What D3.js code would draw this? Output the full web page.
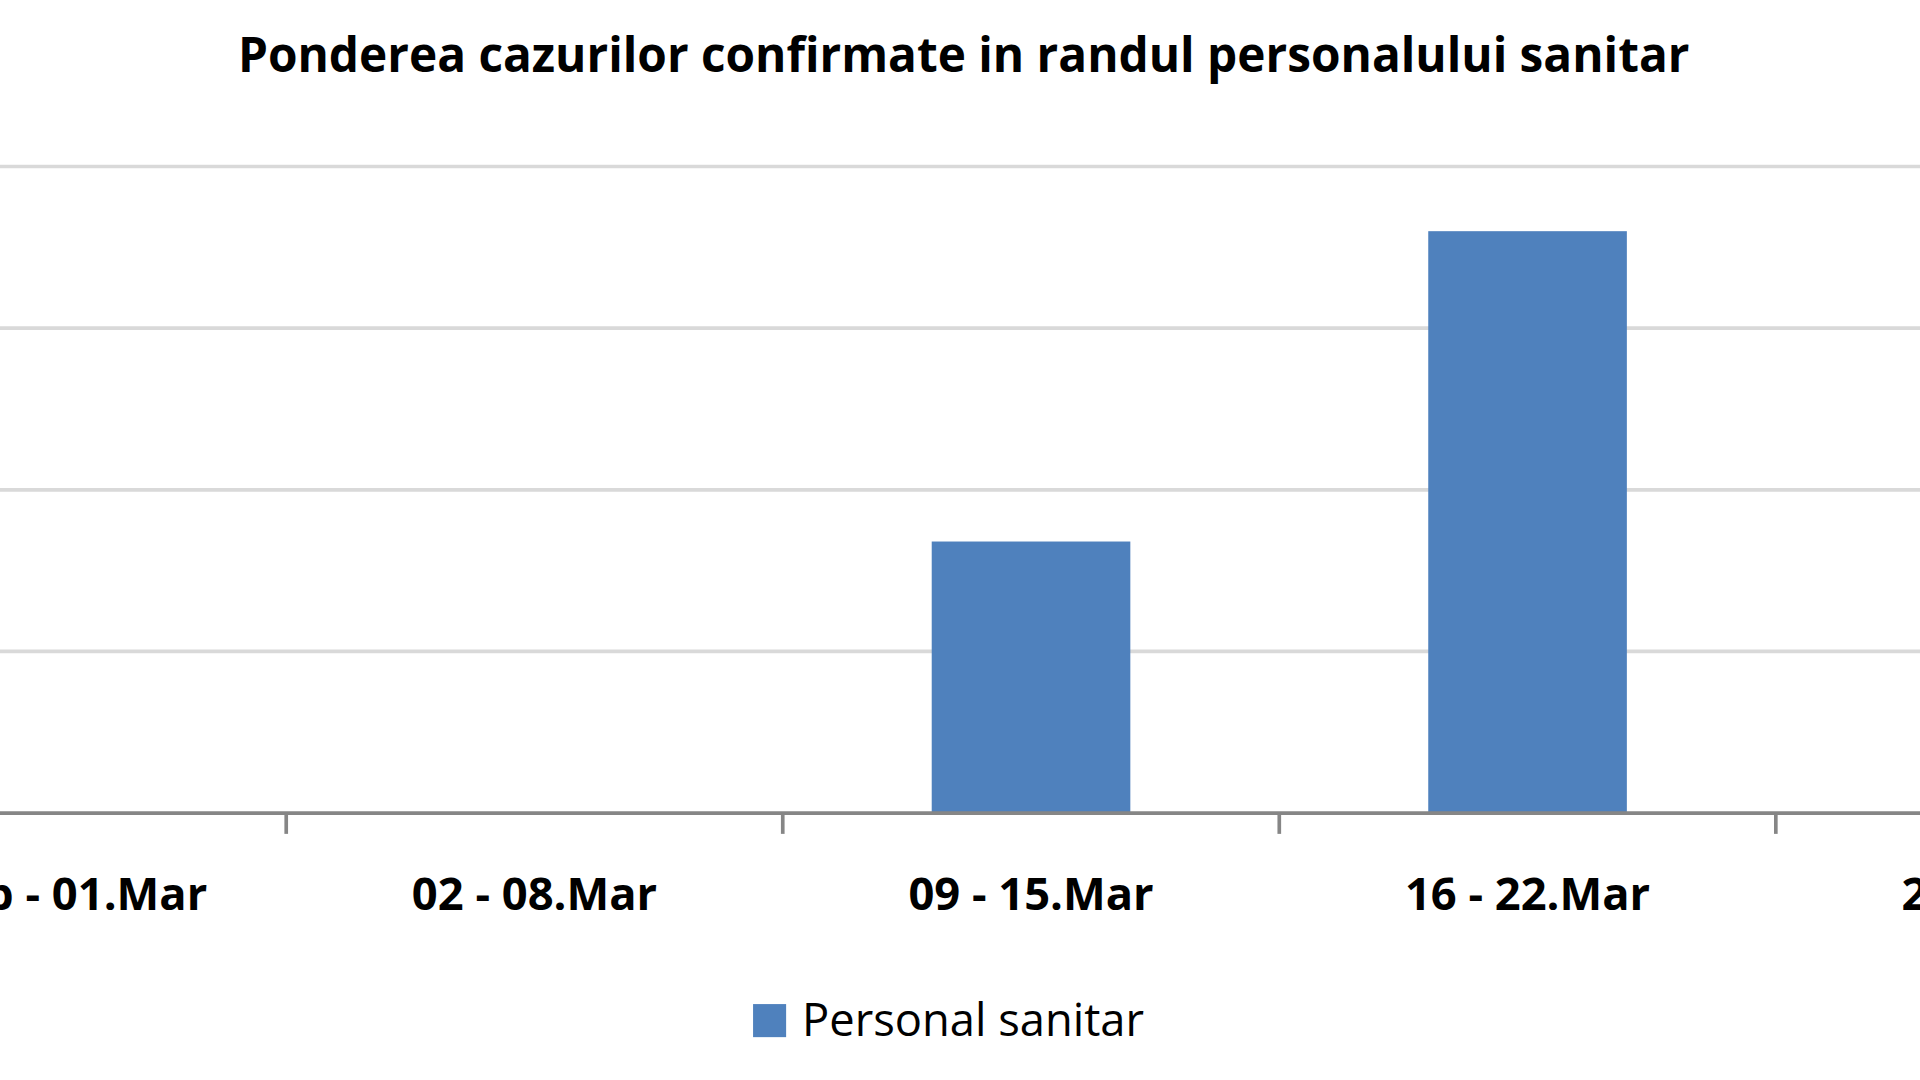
<!DOCTYPE html>
<html><head><meta charset="utf-8">
<script src="https://cdn.jsdelivr.net/npm/d3@7"></script>
<style>body{margin:0;background:#fff;overflow:hidden}</style>
</head><body><div id="chart"></div>
<script>
var title = "Ponderea cazurilor confirmate in randul personalului sanitar";
var categories = ["24.Feb - 01.Mar", "02 - 08.Mar", "09 - 15.Mar", "16 - 22.Mar", "23 - 29.Mar"];
var values = [0, 0, 8.4, 18.0, null];
var yTicks = [0, 5, 10, 15, 20];
var seriesName = "Personal sanitar";

// Work in 1568x882 units, scaled up to the 1920x1080 window.
var svg = d3.select("#chart").append("svg")
    .attr("width", 1920).attr("height", 1080)
    .attr("viewBox", "0 0 1568 882");

var font = "'Open Sans', sans-serif";
var step = 405.5, firstCenter = 31;
var x = d3.scaleBand()
    .domain(categories)
    .range([firstCenter - step / 2, firstCenter - step / 2 + step * categories.length])
    .paddingInner(0.6).paddingOuter(0.3);
var y = d3.scaleLinear().domain([0, 20]).range([664, 136]);

svg.append("text").attr("x", 787).attr("y", 59).attr("text-anchor", "middle")
    .style("font-family", font).style("font-weight", "bold")
    .style("font-size", "39px").text(title);

// Gridlines
svg.append("g").selectAll("line").data(yTicks.slice(1)).enter().append("line")
    .attr("x1", 0).attr("x2", 1568)
    .attr("y1", function (d) { return y(d); }).attr("y2", function (d) { return y(d); })
    .attr("stroke", "#d9d9d9").attr("stroke-width", 3);

// Bars
svg.append("g").selectAll("rect")
    .data(categories.map(function (c, i) { return {c: c, v: values[i]}; })
        .filter(function (d) { return d.v; }))
    .enter().append("rect")
    .attr("x", function (d) { return x(d.c); })
    .attr("width", x.bandwidth())
    .attr("y", function (d) { return y(d.v); })
    .attr("height", function (d) { return y(0) - y(d.v); })
    .style("fill", "#4f81bd");

// Axis line, tick marks between categories, labels
svg.append("line").attr("x1", 0).attr("x2", 1568).attr("y1", y(0)).attr("y2", y(0))
    .attr("stroke", "#868686").attr("stroke-width", 3);
svg.append("g").selectAll("line").data(categories.slice(1)).enter().append("line")
    .attr("x1", function (d) { return x(d) - x.step() * x.paddingInner() / 2; })
    .attr("x2", function (d) { return x(d) - x.step() * x.paddingInner() / 2; })
    .attr("y1", y(0)).attr("y2", y(0) + 17)
    .attr("stroke", "#868686").attr("stroke-width", 3);
svg.append("g").selectAll("text").data(categories).enter().append("text")
    .attr("x", function (d) { return x(d) + x.bandwidth() / 2; })
    .attr("y", 743).attr("text-anchor", "middle")
    .style("font-family", font).style("font-weight", "bold")
    .style("font-size", "37px").text(function (d) { return d; });

// Legend
svg.append("rect").attr("x", 615).attr("y", 820).attr("width", 27).attr("height", 27)
    .style("fill", "#4f81bd");
svg.append("text").attr("x", 655).attr("y", 846)
    .style("font-family", font)
    .style("font-size", "37px").text(seriesName);
</script>
</body></html>
